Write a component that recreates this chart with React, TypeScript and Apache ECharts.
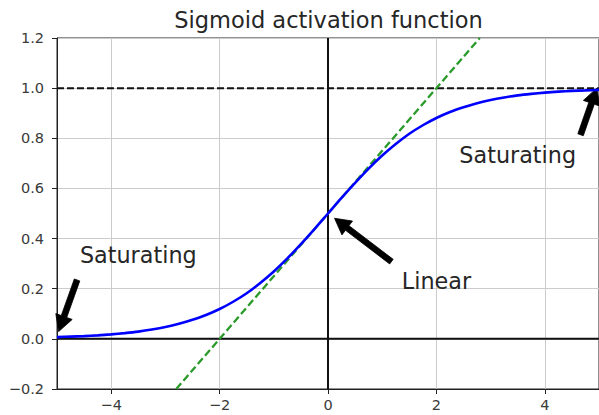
import React, { useEffect, useRef } from "react";
import * as echarts from "echarts";

// ---- data ----
const xTicks = [-4, -2, 0, 2, 4];
const yTicks = [-0.2, 0, 0.2, 0.4, 0.6, 0.8, 1.0, 1.2];
const sigmoidX = [-5, -4.75, -4.5, -4.25, -4, -3.75, -3.5, -3.25, -3, -2.75, -2.5, -2.25, -2, -1.75, -1.5, -1.25, -1, -0.75, -0.5, -0.25, 0, 0.25, 0.5, 0.75, 1, 1.25, 1.5, 1.75, 2, 2.25, 2.5, 2.75, 3, 3.25, 3.5, 3.75, 4, 4.25, 4.5, 4.75, 5];
const sigmoidY = [0.007, 0.009, 0.011, 0.014, 0.018, 0.023, 0.029, 0.037, 0.047, 0.06, 0.076, 0.095, 0.119, 0.148, 0.182, 0.223, 0.269, 0.321, 0.378, 0.438, 0.5, 0.562, 0.622, 0.679, 0.731, 0.777, 0.818, 0.852, 0.881, 0.905, 0.924, 0.94, 0.953, 0.963, 0.971, 0.977, 0.982, 0.986, 0.989, 0.991, 0.993];
const linearX = [-2.8, 2.8];
const linearY = [-0.2, 1.2];
const saturationX = [-5, 5];
const saturationY = [1, 1];
const hAxisX = [-5, 5];
const hAxisY = [0, 0];
const vAxisX = [0, 0];
const vAxisY = [-0.2, 1.2];
const annotationTexts = ["Saturating", "Saturating", "Linear"];
const annotationTextX = [-3.5, 3.5, 2];
const annotationTextY = [0.3, 0.7, 0.2];
const arrowTailX = [-4.63, 4.66, 1.17];
const arrowTailY = [0.235, 0.814, 0.308];
const arrowTipX = [-4.97, 4.96, 0.12];
const arrowTipY = [0.029, 1.0, 0.481];
const titleText = "Sigmoid activation function";

const FONT = "'DejaVu Sans', sans-serif";

const pairs = (xs: number[], ys: number[]) => xs.map((x, i) => [x, ys[i]]);
const fmt = (v: number, d: number) => (v < 0 ? "\u2212" : "") + Math.abs(v).toFixed(d);

export default function App() {
  const ref = useRef<HTMLDivElement>(null);
  useEffect(() => {
    if (!ref.current) return;
    const chart = echarts.init(ref.current, undefined, { renderer: "svg" });
    const gridLeft = 57, gridTop = 38, gridW = 543, gridH = 351;
    const annoFs = 22.3;
    const option: any = {
      animation: false,
      backgroundColor: "#fff",
      grid: { left: gridLeft, top: gridTop, width: gridW, height: gridH, show: true, borderColor: "#222", borderWidth: 1, backgroundColor: "transparent" },
      xAxis: {
        type: "value", min: -5, max: 5,
        axisLine: { onZero: false, lineStyle: { color: "#222", width: 1 } },
        axisTick: { show: true, length: 5, customValues: xTicks, lineStyle: { color: "#222" } },
        axisLabel: { customValues: xTicks, margin: 8, color: "#3a3a3a", fontFamily: FONT, fontSize: 14.5, formatter: (v: number) => fmt(v, 0) },
        splitLine: { show: true, lineStyle: { color: "#cccccc", width: 1 } },
      },
      yAxis: {
        type: "value", min: -0.2, max: 1.2, interval: 0.2,
        axisLine: { show: true, onZero: false, lineStyle: { color: "#222", width: 1 } },
        axisTick: { show: true, length: 5, lineStyle: { color: "#222" } },
        axisLabel: { margin: 13, color: "#3a3a3a", fontFamily: FONT, fontSize: 14.5, formatter: (v: number) => fmt(v, 1) },
        splitLine: { show: true, lineStyle: { color: "#cccccc", width: 1 } },
      },
      graphic: [
        {
          type: "text", x: gridLeft + gridW / 2, y: 20,
          style: { text: titleText, font: `22.5px ${FONT}`, fill: "#262626", align: "center", verticalAlign: "middle", textAlign: "center", textVerticalAlign: "middle" },
        },
      ],
      series: [
        { type: "line", data: pairs(hAxisX, hAxisY), symbol: "none", lineStyle: { color: "#111", width: 2 }, silent: true },
        { type: "line", data: pairs(saturationX, saturationY), symbol: "none", lineStyle: { color: "#111", width: 2, type: [7, 3] }, silent: true },
        { type: "line", data: pairs(vAxisX, vAxisY), symbol: "none", lineStyle: { color: "#111", width: 2 }, silent: true },
        { type: "line", data: pairs(linearX, linearY), symbol: "none", lineStyle: { color: "#2a9a2a", width: 2.3, type: [7.5, 3.5] }, silent: true },
        { type: "line", data: pairs(sigmoidX, sigmoidY), symbol: "none", smooth: 0.3, lineStyle: { color: "#0000ff", width: 2.6 }, silent: true },
        {
          type: "custom", clip: false, silent: true,
          data: arrowTailX.map((x, i) => [x, arrowTailY[i], arrowTipX[i], arrowTipY[i]]),
          renderItem: (params: any, api: any) => {
            const p0 = api.coord([api.value(0), api.value(1)]);
            const p1 = api.coord([api.value(2), api.value(3)]);
            const dx = p1[0] - p0[0], dy = p1[1] - p0[1];
            const L = Math.hypot(dx, dy);
            const ux = dx / L, uy = dy / L;
            const nx = -uy, ny = ux;
            const hl = 16, hh = 8.7, sh = 2.9;
            const bx = p1[0] - ux * hl, by = p1[1] - uy * hl;
            const pts = [
              [p0[0] + nx * sh, p0[1] + ny * sh],
              [bx + nx * sh, by + ny * sh],
              [bx + nx * hh, by + ny * hh],
              [p1[0], p1[1]],
              [bx - nx * hh, by - ny * hh],
              [bx - nx * sh, by - ny * sh],
              [p0[0] - nx * sh, p0[1] - ny * sh],
            ];
            return { type: "polygon", shape: { points: pts }, style: { fill: "#000", stroke: "#000", lineWidth: 0.8 } };
          },
        },
        {
          type: "custom", clip: false, silent: true,
          data: annotationTextX.map((x, i) => [x, annotationTextY[i], i]),
          renderItem: (params: any, api: any) => {
            const p = api.coord([api.value(0), api.value(1)]);
            const i = api.value(2);
            return {
              type: "text", x: p[0], y: p[1] - annoFs * 0.3 - 1.5,
              style: { text: annotationTexts[i], font: `${annoFs}px ${FONT}`, fill: "#262626", align: "center", verticalAlign: "middle", textAlign: "center", textVerticalAlign: "middle" },
            };
          },
        },
      ],
    };
    chart.setOption(option);
    return () => chart.dispose();
  }, []);
  return <div ref={ref} style={{ position: "fixed", left: 0, top: 0, width: 599, height: 415 }} />;
}
